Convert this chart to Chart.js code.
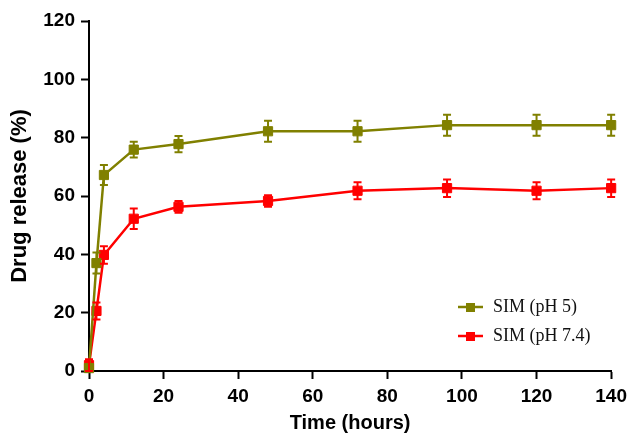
<!DOCTYPE html>
<html>
<head>
<meta charset="utf-8">
<script src="https://cdn.jsdelivr.net/npm/chart.js@4"></script>
<style>
  html, body { margin: 0; padding: 0; background: #fff; }
  #wrap { width: 633px; height: 435px; }
</style>
</head>
<body>
<div id="wrap"><canvas id="release"></canvas></div>
<script>
const hours = [0, 2, 4, 12, 24, 48, 72, 96, 120, 140];
const ph5Release = [1, 37, 67.2, 75.9, 77.8, 82.2, 82.2, 84.3, 84.3, 84.3];
const ph5Error = [1, 3.6, 3.4, 2.7, 2.8, 3.6, 3.6, 3.6, 3.6, 3.6];
const ph74Release = [2, 20.6, 39.8, 52.2, 56.3, 58.3, 61.8, 62.7, 61.8, 62.7];
const ph74Error = [2, 2.9, 3, 3.5, 2, 2, 2.9, 3, 2.9, 3];
const seriesLabels = ['SIM (pH 5)', 'SIM (pH 7.4)'];
const seriesColors = ['#808000', '#ff0000'];

const AXIS_FONT = '"Liberation Sans", Arial, sans-serif';

function points(values) {
    return hours.map((h, i) => ({ x: h, y: values[i] }));
}

function buildDataset(label, color, values, errors) {
    return {
        label,
        data: points(values),
        errors,
        borderColor: color,
        backgroundColor: color,
        borderWidth: 2.5,
        pointStyle: 'rect',
        pointRadius: 6.5,
        pointBorderWidth: 1,
        pointHoverRadius: 6.5,
        tension: 0,
        clip: 12,
    };
}

const errorBars = {
    id: 'errorBars',
    afterDatasetsDraw(chart) {
        const { ctx, scales: { y } } = chart;
        chart.data.datasets.forEach((ds, i) => {
            const meta = chart.getDatasetMeta(i);
            ctx.save();
            ctx.strokeStyle = ds.borderColor;
            ctx.lineWidth = 2;
            meta.data.forEach((pt, j) => {
                const v = ds.data[j].y;
                const e = ds.errors[j];
                const top = y.getPixelForValue(v + e);
                const bot = y.getPixelForValue(v - e);
                const cap = 4;
                ctx.beginPath();
                ctx.moveTo(pt.x, top);
                ctx.lineTo(pt.x, bot);
                ctx.moveTo(pt.x - cap, top);
                ctx.lineTo(pt.x + cap, top);
                ctx.moveTo(pt.x - cap, bot);
                ctx.lineTo(pt.x + cap, bot);
                ctx.stroke();
            });
            ctx.restore();
        });
    }
};

const sideLegend = {
    id: 'sideLegend',
    afterDraw(chart) {
        const { ctx } = chart;
        const rows = [307, 336];
        ctx.save();
        ctx.font = '18px "Liberation Serif", "Times New Roman", serif';
        ctx.textBaseline = 'middle';
        chart.data.datasets.forEach((ds, i) => {
            const yy = rows[i];
            ctx.strokeStyle = ds.borderColor;
            ctx.fillStyle = ds.borderColor;
            ctx.lineWidth = 2.5;
            ctx.beginPath();
            ctx.moveTo(458, yy);
            ctx.lineTo(483, yy);
            ctx.stroke();
            ctx.fillRect(466, yy - 4, 9, 9);
            ctx.fillStyle = '#111';
            ctx.fillText(ds.label, 493, yy);
        });
        ctx.restore();
    }
};

function axisCommon() {
    return {
        type: 'linear',
        min: 0,
        border: { display: true, color: '#000', width: 2 },
        grid: {
            drawOnChartArea: false,
            drawTicks: true,
            tickLength: 8,
            tickWidth: 2,
            tickColor: '#000',
        },
        ticks: {
            stepSize: 20,
            color: '#000',
            font: { family: AXIS_FONT, size: 19, weight: 'bold' },
        },
        title: {
            display: true,
            color: '#000',
            font: { family: AXIS_FONT, size: 20, weight: 'bold' },
        },
    };
}

const xAxis = axisCommon();
xAxis.max = 140;
xAxis.ticks.padding = 6;
xAxis.title.text = 'Time (hours)';
xAxis.title.padding = { top: 4, bottom: 0 };
xAxis.afterFit = s => { s.height = 64; };

const yAxis = axisCommon();
yAxis.max = 120;
yAxis.ticks.padding = 6;
yAxis.title.text = 'Drug release (%)';
yAxis.title.font = { family: AXIS_FONT, size: 22, weight: 'bold' };
yAxis.title.padding = { top: 0, bottom: 0 };
yAxis.afterFit = s => { s.width = 82; };

new Chart(document.getElementById('release'), {
    type: 'line',
    data: {
        datasets: [
            buildDataset(seriesLabels[0], seriesColors[0], ph5Release, ph5Error),
            buildDataset(seriesLabels[1], seriesColors[1], ph74Release, ph74Error),
        ],
    },
    options: {
        responsive: true,
        maintainAspectRatio: false,
        animation: false,
        layout: { padding: { left: 7, right: 21, top: 21, bottom: 0 } },
        scales: { x: xAxis, y: yAxis },
        plugins: {
            legend: { display: false },
            tooltip: { enabled: false },
        },
    },
    plugins: [errorBars, sideLegend],
});
</script>
</body>
</html>
